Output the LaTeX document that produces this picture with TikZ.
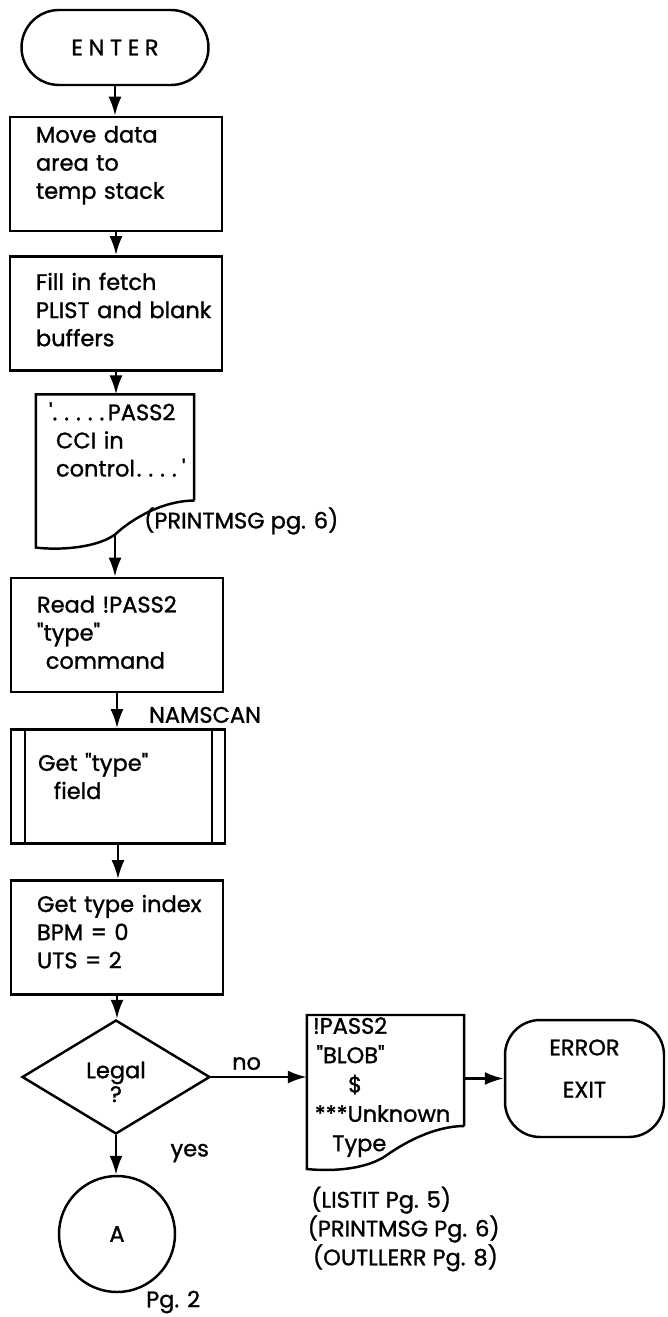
\documentclass[tikz,border=0pt]{standalone}
\usepackage{fontspec}
\setmainfont{Poppins}[Ligatures=TeXOff, FakeBold=1.2]
\usepackage{tikz}
\usetikzlibrary{positioning, arrows.meta, calc, shapes.geometric}
\hfuzz=60pt
\hyphenpenalty=10000
\exhyphenpenalty=10000

\begin{document}
\begin{tikzpicture}[
      x=0.02cm, y=-0.02cm,
      line width=1.4pt,
      font=\fontsize{12.8}{16}\selectfont,
      box/.style={
        draw,
        minimum width=4.24cm,
        text width=3.2cm,
        inner xsep=0.52cm,
        inner ysep=5pt,
        text height=#1,
        text depth=\dimexpr55pt-#1\relax,
        align=left
      },
      box/.default=9.6pt,
      terminal/.style={
        draw,
        rounded corners=0.75cm,
        minimum width=3.74cm,
        minimum height=1.5cm,
        align=center
      },
      docpart/.style={
        minimum width=3.12cm,
        text width=2.64cm,
        inner xsep=0.24cm,
        inner ysep=5pt,
        text height=9pt,
        align=left
      },
      note/.style={
        align=left,
        inner sep=0pt
      },
      arrow/.style={
        -{Latex[length=3.8mm, width=2.6mm]}
      }
    ]

    \useasboundingbox (0,0) rectangle (668,1317);

    % main column
    \node[terminal] (enter) at (115,47.5) {\addfontfeatures{LetterSpace=25}ENTER};
    \node[box] (move) at (116,174) {Move data\\area to\\temp~stack};
    \node[box=14.1pt] (fill) at (116,313.5) {Fill in fetch\\PLIST~and~blank\\buffers};

    \node[docpart, text depth=40pt] (ccimsg) at (115,447.5)
      {'.\kern4pt.\kern4pt.\kern4pt.\kern4pt.\kern2pt PASS2\\\hspace*{4pt}CCI in\\\hspace*{4pt}control\kern1pt.\kern4pt.\kern4pt.\kern4pt.\kern3pt'};
    \draw (ccimsg.south east) -- (ccimsg.north east) -- (ccimsg.north west)
      -- ($(ccimsg.south west)+(0,47)$)
      .. controls +(25,3) and +(-18,13) .. ($(ccimsg.south)+(0,34)$)
      .. controls +(17,-16) and +(-31,0) .. (ccimsg.south east);
    \coordinate (ccitail) at ($(ccimsg.south)+(0,34)$);
    \node[note, anchor=west] (printnote) at (143,521) {(PRINTMSG pg. 6)};

    \node[box=14.7pt] (read) at (117,635) {Read~!PASS2\\"type"\\\hspace*{5pt}command};
    \node[box=18.6pt, minimum width=4.28cm] (getfield) at (118,786.5) {Get~"type"\\\hspace*{9pt}field};
    \draw ($(getfield.north west)+(15,0)$) -- ($(getfield.south west)+(15,0)$);
    \draw ($(getfield.north east)+(-14,0)$) -- ($(getfield.south east)+(-14,0)$);
    \node[box=13pt] (index) at (117,937.5) {Get~type~index\\BPM = 0\\UTS = 2};

    \node[diamond, draw, minimum width=3.76cm, minimum height=2.28cm, inner sep=0pt,
      align=center, text height=28.6pt, font=\fontsize{12.8}{13.6}\selectfont] (legal) at (116,1077) {Legal\\?};
    \node[circle, draw, minimum size=2.32cm] (conn) at (117,1234) {A};
    \node[note, anchor=west] (pgtwo) at (145,1302) {Pg. 2};

    % error branch
    \node[docpart, minimum width=3.1cm, text width=2.9cm, inner xsep=0.1cm,
      inner ysep=1pt, text height=9pt, text depth=50.8pt,
      font=\fontsize{12.8}{16.7}\selectfont] (errmsg) at (385.5,1070.5)
      {!PASS2\\\hspace*{2pt}"BLOB"\\\hspace*{20pt}\$\\\hspace*{1pt}***Unknown\\\hspace*{11pt}Type};
    \draw (errmsg.south east) -- (errmsg.north east) -- (errmsg.north west)
      -- ($(errmsg.south west)+(0,43)$)
      .. controls +(30,3) and +(-18,12) .. ($(errmsg.south)+(0,30)$)
      .. controls +(18,-13) and +(-30,0) .. (errmsg.south east);
    \node[terminal, rounded corners=0.7cm, minimum width=3.18cm, minimum height=2.34cm,
      text depth=11.4pt, font=\fontsize{12.8}{24}\selectfont] (errexit) at (584.5,1078.5) {ERROR\\EXIT};
    \node[note, anchor=west, font=\fontsize{12.8}{14.5}\selectfont] (errnotes) at (310,1229)
      {(LISTIT Pg. 5)\\\hspace*{-2pt}(PRINTMSG Pg. 6)\\\hspace*{1pt}(OUTLLERR Pg. 8)};

    % connectors
    \draw[arrow] (enter.south) -- (enter.south |- move.north);
    \draw[arrow] (move.south) -- (fill.north);
    \draw[arrow] (fill.south) -- (fill.south |- ccimsg.north);
    \draw[arrow] (ccitail) -- (ccitail |- read.north);
    \draw[arrow] (read.south) -- node[pos=0.62, right=0.5cm] {NAMSCAN} (read.south |- getfield.north);
    \draw[arrow] (getfield.south) -- (getfield.south |- index.north);
    \draw[arrow] (index.south) -- (index.south |- legal.north);
    \draw[arrow] (legal.east) -- node[pos=0.37, above] {no} (legal.east -| errmsg.west);
    \draw[arrow] (errmsg.east |- errexit.west) -- (errexit.west);
    \draw[arrow] (legal.south) -- node[pos=0.45, right=0.95cm] {yes} (legal.south |- conn.north);

    \end{tikzpicture}
\end{document}
